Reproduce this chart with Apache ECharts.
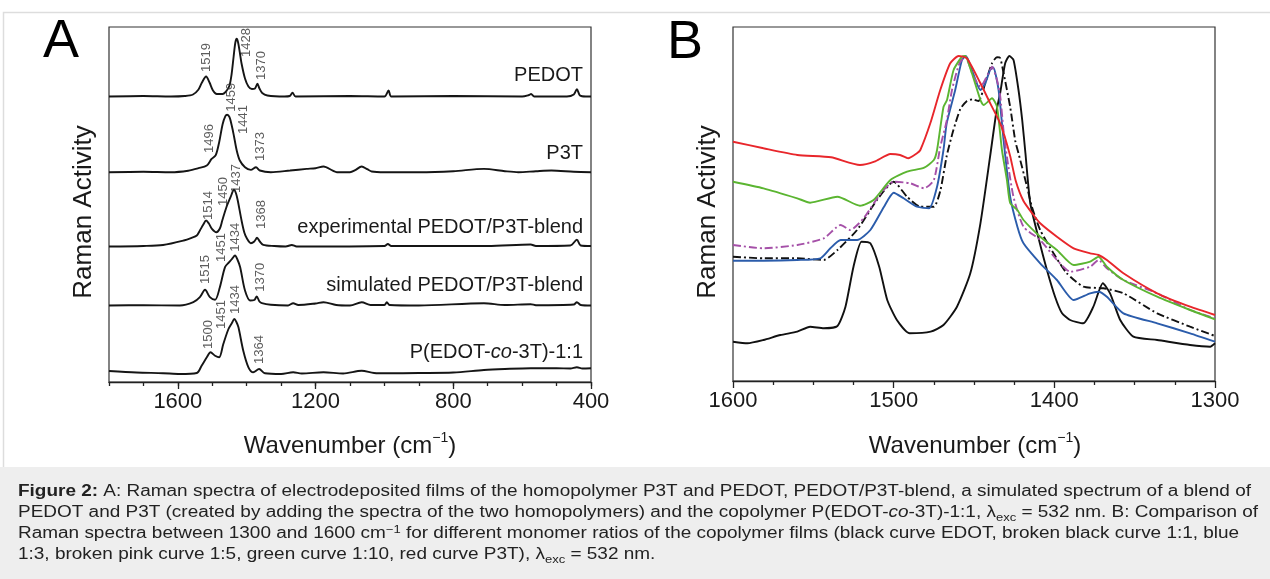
<!DOCTYPE html>
<html><head><meta charset="utf-8">
<script src="https://cdn.jsdelivr.net/npm/echarts@6/dist/echarts.min.js"></script>
<style>html,body{margin:0;padding:0;background:#fff;}#c{width:1270px;height:579px;}</style>
</head><body><div id="c"></div>
<script>
const FONT = "'Liberation Sans', Arial, Helvetica, sans-serif";

// ---------- Panel A: [wavenumber, intensity above the trace's own baseline] ----------
const pedotA = [[1800,0],[1700,0.5],[1620,0],[1580,0.5],[1556,2],[1540,7],[1530,14],[1518,20],[1508,14],[1498,6],[1487,2.5],[1470,2.5],[1458,6],[1450,11],[1444,22],[1438,40],[1433,54],[1429,57.7],[1425,54],[1420,44],[1415,33],[1405,18],[1395,10],[1385,7.5],[1376,8],[1369,12.7],[1363,8],[1355,3.5],[1340,1],[1290,0],[1275,0.5],[1267,3.7],[1258,0],[1100,0.5],[1000,0],[988,6],[980,0],[800,0.5],[600,0],[580,1.5],[574,2.5],[565,0],[470,0],[450,2],[441,7.3],[432,1],[415,0],[400,0]];
const p3tA = [[1800,0],[1700,0.5],[1620,0],[1570,1.5],[1540,4],[1516,6.7],[1502,13.3],[1490,17],[1480,30],[1470,48],[1462,56],[1457,57.5],[1450,55],[1443,46],[1437,36],[1429,21.7],[1420,11.7],[1405,5],[1388,2.3],[1373,5],[1362,1.7],[1330,0],[1274,1.7],[1226,3.3],[1200,4],[1177,5.7],[1150,1.5],[1138,0],[1100,0],[1085,2],[1066,5.7],[1050,3],[1037,0.7],[1000,0],[900,0],[800,1],[711,3.3],[650,1],[611,0],[560,1],[515,1.7],[450,0.5],[400,0]];
const expBlendA = [[1800,0],[1700,0.5],[1643,1.5],[1583,6],[1560,8.7],[1545,11],[1536,16],[1526,22],[1518,26],[1510,23],[1501,17.7],[1488,14.3],[1478,18],[1471,26],[1459,39.3],[1447,49.3],[1437,56.7],[1431,53],[1426,46],[1415,26],[1407,14],[1399,7.7],[1388,3.3],[1378,5],[1370,8.7],[1362,5],[1352,1.7],[1320,0.5],[1287,0],[1269,1.5],[1255,0],[1000,0.5],[990,2.5],[980,0.5],[700,0.5],[575,2],[560,0.5],[460,1],[441,6.7],[430,1],[400,0.5]];
const simBlendA = [[1800,0],[1700,0.3],[1594,0],[1555,3.3],[1536,8.3],[1521,15.7],[1507,8.3],[1492,5.7],[1478,18.3],[1463,38.3],[1451,43.3],[1442,47],[1434,50],[1427,46],[1419,38.3],[1405,15],[1390,5],[1378,5.5],[1371,9],[1363,4],[1356,2.3],[1330,0.7],[1280,0],[1265,2.3],[1250,0.5],[1200,2],[1177,3.3],[1140,0.5],[1100,0],[1066,3.3],[1040,0.5],[1000,0.5],[993,3.3],[985,0.5],[900,0],[711,2.3],[650,0.5],[575,1.3],[560,0.3],[450,1],[441,3.3],[430,0.5],[400,0]];
const copolyA = [[1800,3],[1720,1.5],[1643,0.8],[1594,0],[1545,1],[1531,8.3],[1516,16.7],[1505,21.7],[1492,18.3],[1480,16.7],[1468,30],[1453,45],[1443,51],[1436,55],[1430,52],[1424,46.7],[1410,23.3],[1395,6.7],[1381,1.7],[1364,5],[1347,0.7],[1300,0],[1265,1.7],[1240,0.5],[1177,1.7],[1120,0.5],[1066,3.3],[1030,1],[993,0.7],[900,1],[800,1.5],[711,4],[650,5],[575,5.8],[500,5.8],[460,5.5],[441,6.8],[425,5.5],[400,5.8]];
const tracesA = [pedotA, p3tA, expBlendA, simBlendA, copolyA];
const offsetsA = [285.5, 209.8, 135.5, 76.5, 8];
const traceNamesA = ['PEDOT', 'P3T', 'experimental PEDOT/P3T-blend', 'simulated PEDOT/P3T-blend', 'P(EDOT-{i|co}-3T)-1:1'];
// peak annotations: [text, wavenumber, height]
const peakLabelsA = [
  ['1519',1518,324.5],['1428',1400,339.5],['1370',1356,316.5],
  ['1459',1444,284.8],['1441',1411,262.5],['1496',1507,243.5],['1373',1361,235.5],
  ['1514',1512,176.5],['1450',1469,190.5],['1437',1429,203.5],['1368',1356,167.5],
  ['1515',1521,112.5],['1451',1473,134.5],['1434',1434,144.8],['1370',1361,104.8],
  ['1500',1512,47.5],['1451',1473,67.5],['1434',1434,82.5],['1364',1364,32.5]
];
const ticksA = {min: 400, max: 1800, major: 400, minor: 100};

// ---------- Panel B: [wavenumber, intensity] ----------
const edotB = [[1600,39.3],[1591,37.7],[1581,41],[1570.5,46],[1560,49.3],[1552,54.3],[1543.5,52.7],[1535,55],[1530,74.3],[1525,114.3],[1520,139.3],[1514.5,137.7],[1509,114.3],[1504,81],[1498,61],[1490,47.7],[1477,49.3],[1469,56],[1460.6,74.3],[1452.3,107.7],[1446,157.7],[1440,224.3],[1436,270],[1433.7,288],[1430.6,317.7],[1428,325],[1425.4,321],[1422.3,291],[1420,261],[1418,228],[1415,178],[1410,144],[1404.6,111],[1399.5,84],[1395.3,68],[1390.2,61],[1382,57.7],[1375.7,74.3],[1369.8,97.7],[1365.3,87.7],[1359,61],[1350.8,44.3],[1336,41],[1315.5,36],[1303,34.3],[1300,37.7]];
const ratio11B = [[1600,124.3],[1581,122.7],[1560,122.7],[1543.5,121],[1535,131],[1522.8,151],[1510.4,181],[1500,199.3],[1491.7,184.3],[1483.4,174.3],[1475,174.3],[1471,190],[1467,225],[1463,250],[1458.5,272],[1454.4,280],[1451,281.7],[1447.2,280],[1443,297.7],[1438.8,317.7],[1435.7,323.7],[1433.7,323],[1431.6,308],[1427.5,274.3],[1424.3,240],[1422.3,227.7],[1417,194.3],[1414,174.3],[1408.8,151],[1400.5,127.7],[1392.2,107.7],[1381.9,94.3],[1369.5,92.7],[1357,87.7],[1336,67.7],[1315.5,54.3],[1300,45]];
const ratio13B = [[1600,120.3],[1581,120.3],[1560,121],[1545.6,122.7],[1539.4,132.7],[1533,141],[1522.8,141],[1514.5,151],[1506,174.3],[1500,188.3],[1493.8,182.7],[1485.5,174.3],[1478,172.7],[1473,194.3],[1469,231],[1467,257.7],[1461.7,291],[1457.5,321],[1455,325],[1451.3,311],[1446,291],[1443,297.7],[1440,311],[1438,313.5],[1434.7,291],[1431.6,241],[1427.5,184.3],[1423,154.3],[1419.2,137.7],[1408.8,117.7],[1398.4,101],[1388,81],[1377.7,87.7],[1372.5,89.3],[1367.3,84.3],[1357,67.7],[1336,57.7],[1315.5,47.7],[1300,39.3]];
const ratio15B = [[1600,136],[1581,132.7],[1560,136],[1543.5,142.7],[1533,156],[1527,151],[1518.7,162.7],[1508,187.7],[1500,199.3],[1489.6,197.7],[1481,192.7],[1475,201],[1471,234],[1467,260],[1463.7,291],[1459,318],[1455.5,324.3],[1450.3,304.3],[1446,294.3],[1441,307.7],[1438.8,314.3],[1435.7,301],[1433.7,285],[1431.6,250],[1429.5,224],[1425.4,184],[1419.2,154.3],[1408.8,141],[1398.4,121],[1390,109.3],[1377.7,114.3],[1372.5,121],[1367.3,112.7],[1357,101],[1336,87.7],[1315.5,71],[1300,62.7]];
const ratio110B = [[1600,199.3],[1581,192.7],[1560,182.7],[1552,178.3],[1535,184.3],[1521,175.3],[1512.5,181],[1502,201],[1491.7,209.3],[1481,213.3],[1475,221],[1473,231],[1469,274],[1466.8,281],[1462.7,311],[1457.5,324.3],[1455.5,325],[1451.3,307.7],[1446,281],[1444,276],[1438.8,282.7],[1435.7,274.3],[1432.6,231],[1429.5,201],[1427.5,178],[1423,171],[1419.2,161],[1408.8,144.3],[1398.4,131],[1388,116],[1377.7,119.3],[1372.5,124.3],[1367.3,114.3],[1357,101],[1336,84.3],[1315.5,71],[1300,61.7]];
const p3tB = [[1600,239.3],[1581,232.7],[1560,226],[1539,223.7],[1521,216],[1512,219.3],[1502,227],[1496,226],[1491,222.7],[1485.5,227.7],[1483.4,231],[1477.2,257.7],[1471,291],[1464.8,317.7],[1459.6,325],[1454.4,322.7],[1446,297.7],[1439.9,277.7],[1433.7,257.7],[1431,245],[1427.5,225],[1424,200],[1419.2,180],[1413,166],[1408.8,157.7],[1398.4,144.3],[1388,132.7],[1377.7,127.7],[1372.5,126],[1367.3,121],[1357,107.7],[1336,87.7],[1315.5,74.3],[1300,66]];
const ticksB = {min: 1300, max: 1600, major: 100, minorSplit: 4};

const seriesB = [
  {data: edotB,    color: '#111111', dash: 'solid'},
  {data: ratio11B, color: '#111111', dash: [8,3,2,3]},
  {data: ratio13B, color: '#2b5cab', dash: 'solid'},
  {data: ratio15B, color: '#a550a8', dash: [8,3,2,3]},
  {data: ratio110B,color: '#5bb531', dash: 'solid'},
  {data: p3tB,     color: '#e8262b', dash: 'solid'}
];

const chart = echarts.init(document.getElementById('c'), null, {renderer: 'canvas'});

const axisLineStyle = {color: '#222', width: 1.3};
const plainNum = v => String(v);
const series = [];
tracesA.forEach((tr, i) => {
  series.push({
    type: 'line', xAxisIndex: 0, yAxisIndex: 0, showSymbol: false, smooth: 0.3,
    data: tr.map(p => [p[0], p[1] + offsetsA[i]]),
    lineStyle: {color: '#151515', width: 1.9}, silent: true, z: 3
  });
});
series.push({
  type: 'scatter', xAxisIndex: 0, yAxisIndex: 0, symbolSize: 1, silent: true, z: 4,
  itemStyle: {color: 'rgba(0,0,0,0)'},
  data: peakLabelsA.map(p => ({name: p[0], value: [p[1], p[2]]})),
  label: {show: true, position: 'inside', rotate: 90, formatter: '{b}', fontSize: 13,
          fontFamily: FONT, color: '#333'}
});
seriesB.forEach(s => {
  series.push({
    type: 'line', xAxisIndex: 2, yAxisIndex: 1, showSymbol: false, smooth: 0.2,
    data: s.data, lineStyle: {color: s.color, width: 1.9, type: s.dash}, silent: true, z: 3
  });
});

const graphic = [
  {type: 'rect', shape: {x: 3.5, y: 12.5, width: 1300, height: 460}, style: {fill: 'none', stroke: '#dddddd', lineWidth: 1.5}, silent: true},
  {type: 'rect', shape: {x: 0, y: 467, width: 1270, height: 112}, style: {fill: '#eeeeee'}, silent: true},
  {type: 'text', x: 61, y: 42, style: {text: 'A', font: '54px ' + FONT, fill: '#000', textAlign: 'center', textVerticalAlign: 'middle'}},
  {type: 'text', x: 685, y: 43, style: {text: 'B', font: '54px ' + FONT, fill: '#000', textAlign: 'center', textVerticalAlign: 'middle'}},
  {type: 'text', x: 84, y: 212, rotation: Math.PI / 2, style: {text: 'Raman Activity', font: '26px ' + FONT, fill: '#1a1a1a', textAlign: 'center', textVerticalAlign: 'middle'}},
  {type: 'text', x: 708, y: 212, rotation: Math.PI / 2, style: {text: 'Raman Activity', font: '26px ' + FONT, fill: '#1a1a1a', textAlign: 'center', textVerticalAlign: 'middle'}}
];
const supRich = {sup: {fontSize: 14, lineHeight: 14, verticalAlign: 'top', fontFamily: FONT, fill: '#1a1a1a'}};
[350, 975].forEach(cx => {
  graphic.push({type: 'text', x: cx, y: 446, style: {text: 'Wavenumber (cm{sup|−1})', fontSize: 24, lineHeight: 30, fontFamily: FONT, fill: '#1a1a1a', textAlign: 'center', textVerticalAlign: 'middle', rich: supRich}});
});
const traceLabelY = [75, 153, 227, 285, 352];
traceNamesA.forEach((t, i) => {
  graphic.push({type: 'text', x: 583, y: traceLabelY[i], style: {text: t, fontSize: 20, fontFamily: FONT, fill: '#1a1a1a', textAlign: 'right', textVerticalAlign: 'middle',
    rich: {i: {fontStyle: 'italic', fontSize: 20, fontFamily: FONT, fill: '#1a1a1a'}}}});
});
const captionLines = [
  '{b|Figure 2:} A: Raman spectra of electrodeposited films of the homopolymer P3T and PEDOT, PEDOT/P3T-blend, a simulated spectrum of a blend of',
  'PEDOT and P3T (created by adding the spectra of the two homopolymers) and the copolymer P(EDOT-{i|co}-3T)-1:1, λ{sub|exc} = 532 nm. B: Comparison of',
  'Raman spectra between 1300 and 1600 cm{sup|−1} for different monomer ratios of the copolymer films (black curve EDOT, broken black curve 1:1, blue',
  '1:3, broken pink curve 1:5, green curve 1:10, red curve P3T), λ{sub|exc} = 532 nm.'
];
const captionY = [492, 513, 534, 555];
const capRich = {
  b: {fontWeight: 'bold', fontSize: 16, fontFamily: FONT, fill: '#222', lineHeight: 20},
  i: {fontStyle: 'italic', fontSize: 16, fontFamily: FONT, fill: '#222', lineHeight: 20},
  sub: {fontSize: 11, lineHeight: 11, verticalAlign: 'bottom', fontFamily: FONT, fill: '#222'},
  sup: {fontSize: 11, lineHeight: 11, verticalAlign: 'top', fontFamily: FONT, fill: '#222'}
};
captionLines.forEach((t, i) => {
  graphic.push({type: 'text', x: 18, y: captionY[i], scaleX: 1.185, style: {text: t, fontSize: 16, lineHeight: 20, fontFamily: FONT, fill: '#222', textAlign: 'left', textVerticalAlign: 'middle', rich: capRich}});
});

const option = {
  animation: false,
  backgroundColor: '#ffffff',
  grid: [
    {left: 109, right: 679, top: 27, bottom: 197, show: true, borderColor: '#333', borderWidth: 1.2, backgroundColor: 'transparent'},
    {left: 733, right: 55, top: 27, bottom: 198, show: true, borderColor: '#333', borderWidth: 1.2, backgroundColor: 'transparent'}
  ],
  xAxis: [
    {gridIndex: 0, type: 'value', position: 'bottom', min: ticksA.min, max: ticksA.max, interval: ticksA.major, inverse: true,
     axisLine: {onZero: false, lineStyle: axisLineStyle}, axisTick: {length: 7, lineStyle: axisLineStyle},
     axisLabel: {fontSize: 22, fontFamily: FONT, color: '#1a1a1a', margin: 9, showMaxLabel: false, formatter: plainNum}, splitLine: {show: false}},
    {gridIndex: 0, type: 'value', position: 'bottom', min: ticksA.min, max: ticksA.max, interval: ticksA.minor, inverse: true,
     axisLine: {show: false, onZero: false}, axisTick: {length: 4, lineStyle: axisLineStyle},
     axisLabel: {show: false}, splitLine: {show: false}},
    {gridIndex: 1, type: 'value', position: 'bottom', min: ticksB.min, max: ticksB.max, interval: ticksB.major, inverse: true,
     axisLine: {onZero: false, lineStyle: axisLineStyle}, axisTick: {length: 7, lineStyle: axisLineStyle},
     minorTick: {show: true, splitNumber: ticksB.minorSplit, length: 4, lineStyle: axisLineStyle},
     axisLabel: {fontSize: 22, fontFamily: FONT, color: '#1a1a1a', margin: 9, formatter: plainNum}, splitLine: {show: false}, minorSplitLine: {show: false}}
  ],
  yAxis: [
    {gridIndex: 0, type: 'value', min: 0, max: 355, show: true, axisLine: {show: false}, axisTick: {show: false}, axisLabel: {show: false}, splitLine: {show: false}},
    {gridIndex: 1, type: 'value', min: 0, max: 354, show: true, axisLine: {show: false}, axisTick: {show: false}, axisLabel: {show: false}, splitLine: {show: false}}
  ],
  series: series,
  graphic: graphic
};
chart.setOption(option);
</script>
</body></html>
